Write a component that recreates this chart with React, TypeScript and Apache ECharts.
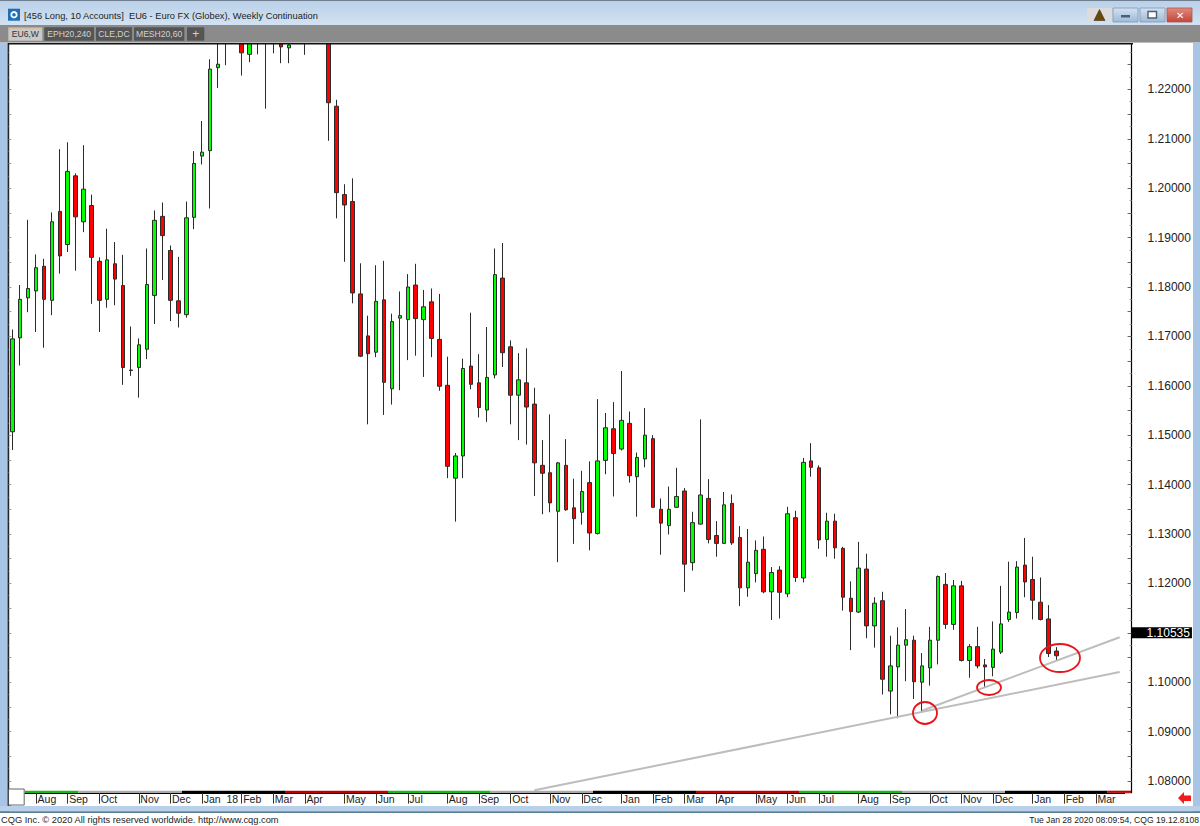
import React, { useEffect, useRef } from "react";
import * as echarts from "echarts";

const opens = [
  1.1507, 1.1697, 1.1778, 1.1792, 1.1842, 1.1773, 1.1953, 1.1886, 1.2025, 1.1932,
  1.1965, 1.1852, 1.1775, 1.1847, 1.1803, 1.1631, 1.1637, 1.1674, 1.1783, 1.1943,
  1.1874, 1.1772, 1.1744, 1.1941, 1.2065, 1.2076, 1.2244, 1.2310, 1.2345, 1.2360,
  1.2271, 1.2300, 1.2330, 1.2320, 1.2330, 1.2284, 1.2320, 1.2320, 1.2340, 1.2370,
  1.2335, 1.2166, 1.1987, 1.1973, 1.1786, 1.1701, 1.1668, 1.1774, 1.1594, 1.1737,
  1.1734, 1.1804, 1.1734, 1.1770, 1.1694, 1.1601, 1.1413, 1.1458, 1.1640, 1.1606,
  1.1551, 1.1622, 1.1818, 1.1679, 1.1581, 1.1606, 1.1563, 1.1439, 1.1424, 1.1346,
  1.1439, 1.1353, 1.1344, 1.1404, 1.1301, 1.1449, 1.1513, 1.1472, 1.1524, 1.1416,
  1.1452, 1.1493, 1.1350, 1.1317, 1.1354, 1.1387, 1.1242, 1.1320, 1.1372, 1.1297,
  1.1281, 1.1362, 1.1293, 1.1191, 1.1220, 1.1269, 1.1183, 1.1227, 1.1179, 1.1333,
  1.1211, 1.1448, 1.1434, 1.1289, 1.1326, 1.1271, 1.1170, 1.1142, 1.1229, 1.1114,
  1.1165, 1.0982, 1.1031, 1.1075, 1.1085, 1.1000, 1.1029, 1.1085, 1.1198, 1.1117,
  1.1195, 1.1044, 1.1072, 1.1035, 1.1030, 1.1061, 1.1127, 1.1141, 1.1237, 1.1208,
  1.1162, 1.1128, 1.1063,
];
const closes = [
  1.1695, 1.1775, 1.1797, 1.1839, 1.1775, 1.1932, 1.1863, 1.2034, 1.1942, 1.1998,
  1.1860, 1.1773, 1.1855, 1.1816, 1.1637, 1.1632, 1.1683, 1.1805, 1.1935, 1.1904,
  1.1773, 1.1747, 1.1940, 1.2050, 1.2073, 1.2241, 1.2251, 1.2340, 1.2385, 1.2274,
  1.2340, 1.2350, 1.2310, 1.2350, 1.2286, 1.2290, 1.2350, 1.2340, 1.2370, 1.2340,
  1.2173, 1.1991, 1.1966, 1.1788, 1.1660, 1.1665, 1.1771, 1.1607, 1.1730, 1.1742,
  1.1800, 1.1736, 1.1760, 1.1696, 1.1599, 1.1437, 1.1458, 1.1635, 1.1603, 1.1556,
  1.1617, 1.1825, 1.1667, 1.1581, 1.1612, 1.1557, 1.1444, 1.1423, 1.1363, 1.1444,
  1.1349, 1.1331, 1.1386, 1.1302, 1.1448, 1.1515, 1.1463, 1.1530, 1.1418, 1.1455,
  1.1500, 1.1354, 1.1322, 1.1350, 1.1376, 1.1239, 1.1323, 1.1379, 1.1289, 1.1281,
  1.1359, 1.1282, 1.1191, 1.1243, 1.1267, 1.1183, 1.1222, 1.1182, 1.1341, 1.1212,
  1.1445, 1.1435, 1.1288, 1.1326, 1.1272, 1.1172, 1.1143, 1.1231, 1.1114, 1.1160,
  1.1006, 1.1033, 1.1075, 1.1086, 1.1001, 1.1033, 1.1085, 1.1214, 1.1117, 1.1195,
  1.1044, 1.1072, 1.1033, 1.1031, 1.1067, 1.1118, 1.1142, 1.1233, 1.1203, 1.1166,
  1.1127, 1.1058, 1.10535,
];
const lows = [
  1.1470, 1.1641, 1.1749, 1.1709, 1.1677, 1.1743, 1.1827, 1.1871, 1.1833, 1.1911,
  1.1766, 1.1709, 1.1758, 1.1763, 1.1602, 1.1620, 1.1576, 1.1654, 1.1725, 1.1814,
  1.1731, 1.1718, 1.1738, 1.1917, 1.2048, 1.1959, 1.2203, 1.2249, 1.2310, 1.2228,
  1.2255, 1.2271, 1.2161, 1.2273, 1.2253, 1.2253, 1.2300, 1.2270, 1.2310, 1.2305,
  1.2096, 1.1939, 1.1851, 1.1767, 1.1658, 1.1522, 1.1658, 1.1541, 1.1562, 1.1591,
  1.1652, 1.1661, 1.1618, 1.1658, 1.1590, 1.1413, 1.1325, 1.1413, 1.1593, 1.1536,
  1.1527, 1.1615, 1.1638, 1.1522, 1.1490, 1.1481, 1.1377, 1.1340, 1.1344, 1.1243,
  1.1347, 1.1280, 1.1319, 1.1267, 1.1299, 1.1421, 1.1376, 1.1469, 1.1404, 1.1335,
  1.1435, 1.1353, 1.1258, 1.1299, 1.1353, 1.1183, 1.1226, 1.1319, 1.1281, 1.1254,
  1.1280, 1.1278, 1.1154, 1.1173, 1.1202, 1.1180, 1.1126, 1.1129, 1.1172, 1.1203,
  1.1202, 1.1416, 1.1270, 1.1254, 1.1250, 1.1145, 1.1065, 1.1140, 1.1089, 1.1070,
  1.0975, 1.0935, 1.0927, 1.1002, 1.0966, 1.0940, 1.0993, 1.1036, 1.1108, 1.1106,
  1.1042, 1.1009, 1.1028, 1.0990, 1.1012, 1.1057, 1.1122, 1.1129, 1.1172, 1.1127,
  1.1125, 1.1051, 1.1044,
];
const highs = [
  1.1714, 1.1804, 1.1936, 1.1866, 1.1857, 1.1951, 1.2079, 1.2093, 1.2030, 1.2087,
  1.1987, 1.1860, 1.1918, 1.1891, 1.1865, 1.1720, 1.1696, 1.1878, 1.1955, 1.1971,
  1.1884, 1.1861, 1.1973, 1.2075, 1.2136, 1.2261, 1.2340, 1.2370, 1.2410, 1.2400,
  1.2380, 1.2400, 1.2420, 1.2400, 1.2380, 1.2340, 1.2400, 1.2390, 1.2400, 1.2400,
  1.2350, 1.2179, 1.2008, 1.2020, 1.1848, 1.1742, 1.1844, 1.1853, 1.1746, 1.1791,
  1.1826, 1.1847, 1.1794, 1.1797, 1.1786, 1.1659, 1.1464, 1.1655, 1.1748, 1.1664,
  1.1719, 1.1878, 1.1889, 1.1692, 1.1666, 1.1676, 1.1596, 1.1490, 1.1542, 1.1446,
  1.1492, 1.1412, 1.1428, 1.1447, 1.1573, 1.1545, 1.1567, 1.1630, 1.1548, 1.1465,
  1.1555, 1.1500, 1.1372, 1.1396, 1.1434, 1.1393, 1.1345, 1.1532, 1.1411, 1.1326,
  1.1385, 1.1380, 1.1316, 1.1310, 1.1287, 1.1295, 1.1233, 1.1235, 1.1355, 1.1347,
  1.1454, 1.1484, 1.1439, 1.1343, 1.1341, 1.1274, 1.1204, 1.1284, 1.1260, 1.1172,
  1.1183, 1.1094, 1.1111, 1.1148, 1.1094, 1.1059, 1.1112, 1.1216, 1.1221, 1.1207,
  1.1205, 1.1077, 1.1112, 1.1047, 1.1123, 1.1195, 1.1244, 1.1245, 1.1292, 1.1254,
  1.1212, 1.1156, 1.1071,
];

const lastPrice = 1.10535;
const barCount = 142;
const monthTickIndex = [3, 7, 11, 16, 20, 24, 29, 33, 37, 42, 46, 50, 55, 59, 63, 68, 72, 77, 81, 85, 89, 94, 98, 102, 107, 111, 116, 120, 124, 129, 133, 137];
const monthTickLabel = ["Aug", "Sep", "Oct", "Nov", "Dec", "Jan  18", "Feb", "Mar", "Apr", "May", "Jun", "Jul", "Aug", "Sep", "Oct", "Nov", "Dec", "Jan", "Feb", "Mar", "Apr", "May", "Jun", "Jul", "Aug", "Sep", "Oct", "Nov", "Dec", "Jan", "Feb", "Mar"];
const lowerTrend = [[66, 1.07812], [140, 1.10206]];
const upperTrend = [[115, 1.09423], [140, 1.10909]];

const seasonEdges = [25, 78.5, 182, 285, 388, 490.6, 593, 696, 799, 902, 1005, 1107.5, 1131];
const seasonColors = ["#18b818", "#aaaaaa", "#000000", "#c00000"];

const titleText = "[456 Long, 10 Accounts]  EU6 - Euro FX (Globex), Weekly Continuation";
const tabs = [
  { name: "EU6,W", x: 8.3, w: 34, active: true },
  { name: "EPH20,240", x: 44.3, w: 49.7, active: false },
  { name: "CLE,DC", x: 96, w: 36, active: false },
  { name: "MESH20,60", x: 134, w: 50.3, active: false },
  { name: "+", x: 187, w: 17.3, active: false },
];

const font = "Liberation Sans";
const xLabels: string[] = Array(barCount).fill("");
monthTickIndex.forEach((idx, i) => { xLabels[idx] = monthTickLabel[i]; });

function rect(x: number, y: number, w: number, h: number, fill: any, z = 100, extra: any = {}) {
  return { type: "rect", z, silent: true, shape: { x, y, width: w, height: h }, style: { fill, ...extra } };
}
function label(text: string, x: number, y: number, fill: string, size = 11, z = 101, align = "left") {
  return { type: "text", z, silent: true, x, y, style: { text, fill, font: `${size}px "${font}"`, textAlign: align, textVerticalAlign: "middle" } };
}

function chrome() {
  const els: any[] = [];
  const titleFill = new echarts.graphic.LinearGradient(0, 0, 0, 1, [
    { offset: 0, color: "#b9d0e8" },
    { offset: 1, color: "#d2e2f2" },
  ]);
  els.push(rect(0, 0, 1200, 25, titleFill));
  els.push(rect(0, 0, 1200, 1, "#6f7f8f", 101));
  els.push(rect(0, 25, 1200, 17, "#8b8b8b"));
  els.push(rect(0, 42, 1200, 1, "#bdbdbd", 101));
  els.push(rect(8, 43, 1125, 1.4, "#111111", 101));
  els.push(rect(0, 0, 7.6, 812, "#a9c5e6", 99));
  els.push(rect(1193, 0, 7, 812, "#a9c5e6", 99));
  els.push(rect(7.6, 0, 1, 812, "#333333", 99.5));
  els.push(rect(0, 25, 1200, 17, "#8b8b8b", 99.6));

  els.push(rect(8, 8.7, 12, 12, "#1f6fb5", 101));
  els.push({ type: "ring", z: 102, silent: true, shape: { cx: 14, cy: 14.7, r: 3.6, r0: 1.8 }, style: { fill: "#ffffff" } });
  els.push(label(titleText, 24, 15.8, "#222222", 9.3));

  tabs.forEach((t) => {
    els.push(rect(t.x, 27.3, t.w, 13.4, t.active ? "#c9c9c9" : "#555555", 101));
    if (t.active) els.push(rect(t.x, 27.3, t.w, 1, "#e9a13a", 102));
    els.push(label(t.name, t.x + t.w / 2, 34.3, t.active ? "#333333" : "#d2d2d2", t.name === "+" ? 12 : 8.6, 102, "center"));
  });

  els.push(rect(1087, 8, 25, 14, "#dcdcdc", 101));
  els.push({ type: "polygon", z: 102, silent: true, shape: { points: [[1099.5, 9.5], [1105, 20.5], [1094, 20.5]] }, style: { fill: "#6b4a00", stroke: "#333", lineWidth: 0.6 } });
  const btn = new echarts.graphic.LinearGradient(0, 0, 0, 1, [
    { offset: 0, color: "#d4e2f1" },
    { offset: 1, color: "#9fb9d6" },
  ]);
  els.push(rect(1113, 8, 25, 14, btn, 101, { stroke: "#7f98b5", lineWidth: 0.8 }));
  els.push(rect(1121, 15, 9, 2.5, "#4d5f74", 102));
  els.push(rect(1140, 8, 25, 14, btn, 101, { stroke: "#7f98b5", lineWidth: 0.8 }));
  els.push(rect(1148, 11.5, 8.5, 6.5, "#ffffff", 102, { stroke: "#4d5f74", lineWidth: 1.4 }));
  const closeFill = new echarts.graphic.LinearGradient(0, 0, 0, 1, [
    { offset: 0, color: "#e2897c" },
    { offset: 1, color: "#c2463a" },
  ]);
  els.push(rect(1167, 8, 25, 14, closeFill, 101, { stroke: "#a8584f", lineWidth: 0.8 }));
  els.push(label("\u2715", 1179.5, 15.3, "#ffffff", 10, 102, "center"));

  // axis bottom: covers the part of the value axes below the plot
  els.push(rect(1125, 793.2, 12, 14, "#ffffff", 50));
  els.push(rect(9, 793.2, 15.6, 11.8, "#ffffff", 50));
  els.push(rect(8.3, 789, 15.9, 16, "#ffffff", 51, { stroke: "#666666", lineWidth: 1 }));
  for (let i = 0; i < seasonEdges.length - 1; i++) {
    els.push(rect(seasonEdges[i], 790.7, seasonEdges[i + 1] - seasonEdges[i], 2.2, seasonColors[i % 4], 40));
  }
  els.push({ type: "polygon", z: 60, silent: true, shape: { points: [[1178, 798], [1184, 792], [1184, 795.5], [1191, 795.5], [1191, 801], [1184, 801], [1184, 804]] }, style: { fill: "#ee1c1c" } });

  // window bottom
  els.push(rect(0, 806, 1200, 5.6, "#b8d0ea", 100));
  els.push(rect(0, 811.6, 1200, 1.2, "#27566b", 101));
  els.push(rect(0, 812.8, 1200, 14, "#ffffff", 100));
  els.push(label("CQG Inc. \u00a9 2020 All rights reserved worldwide. http://www.cqg.com", 1, 819.6, "#222222", 9.3));
  els.push(label("Tue Jan 28 2020 08:09:54, CQG 19.12.8108", 1199, 819.6, "#222222", 8.6, 101, "right"));

  // hand-drawn circles
  [[925, 713, 12, 11], [989, 687.5, 12, 7.5], [1060, 658, 20, 14]].forEach(([cx, cy, rx, ry]) => {
    els.push({ type: "ellipse", z: 30, silent: true, shape: { cx, cy, rx, ry }, style: { fill: "transparent", stroke: "#e8141c", lineWidth: 1.8 } });
  });
  return els;
}

export default function App() {
  const ref = useRef<HTMLDivElement>(null);
  useEffect(() => {
    if (!ref.current) return;
    const chart = echarts.init(ref.current, undefined, { renderer: "svg" });
    const isLabelled = (i: number) => xLabels[i] !== "";
    const valueAxisBase = {
      type: "value",
      min: 1.075,
      max: 1.23,
      interval: 0.005,
      splitLine: { show: false },
      minorSplitLine: { show: false },
    };
    chart.setOption({
      animation: false,
      backgroundColor: "#ffffff",
      grid: { left: 8.35, width: 1123.2, top: 40, height: 765.7, containLabel: false },
      xAxis: {
        type: "category",
        data: xLabels,
        boundaryGap: true,
        offset: -12.6,
        axisLine: { onZero: false, lineStyle: { color: "#000000", width: 1 } },
        axisTick: { show: true, alignWithLabel: true, length: 10.5, interval: isLabelled, lineStyle: { color: "#333333", width: 1 } },
        axisLabel: {
          interval: isLabelled,
          align: "left",
          verticalAlign: "top",
          margin: 0.5,
          padding: [0, 0, 0, 1.5],
          color: "#222222",
          fontFamily: font,
          fontSize: 10.5,
          hideOverlap: false,
        },
        splitLine: { show: false },
        z: 45,
      },
      yAxis: [
        {
          ...valueAxisBase,
          position: "right",
          axisLine: { show: true, lineStyle: { color: "#000000", width: 1.2 } },
          axisTick: { show: true, inside: true, length: 4, lineStyle: { color: "#666666" } },
          minorTick: { show: true, splitNumber: 2, length: 2, lineStyle: { color: "#999999" } },
          axisLabel: {
            margin: 16,
            color: "#222222",
            fontFamily: font,
            fontSize: 12,
            formatter: (v: number) => {
              const hundredth = Math.abs(v * 100 - Math.round(v * 100)) < 1e-6;
              return hundredth && v >= 1.08 && v <= 1.22 ? v.toFixed(5) : "";
            },
          },
        },
        {
          ...valueAxisBase,
          position: "left",
          axisLine: { show: true, lineStyle: { color: "#111111", width: 1.4 } },
          axisTick: { show: true, inside: true, length: 3, lineStyle: { color: "#999999" } },
          minorTick: { show: true, splitNumber: 2, length: 1.5, lineStyle: { color: "#c0c0c0" } },
          axisLabel: { show: false },
        },
      ],
      series: [
        {
          type: "candlestick",
          name: "EU6",
          yAxisIndex: 0,
          barWidth: 4,
          z: 3,
          itemStyle: {
            color: "#00ff00",
            color0: "#ff0000",
            borderColor: "#2b2b2b",
            borderColor0: "#2b2b2b",
            borderWidth: 1,
          },
          data: opens.map((o, i) => [o, closes[i], lows[i], highs[i]]),
          markLine: {
            silent: true,
            symbol: "none",
            lineStyle: { color: "transparent", width: 0 },
            data: [{ yAxis: lastPrice }],
            label: {
              position: "end",
              distance: 0,
              formatter: () => lastPrice.toFixed(5),
              color: "#ffffff",
              backgroundColor: "#000000",
              fontFamily: font,
              fontSize: 12,
              lineHeight: 11,
              padding: [0, 2, 0, 15],
            },
          },
        },
        {
          type: "line",
          name: "Lower trend",
          z: 4,
          symbol: "none",
          lineStyle: { color: "#bdbdbd", width: 2 },
          data: lowerTrend,
        },
        {
          type: "line",
          name: "Upper trend",
          z: 4,
          symbol: "none",
          lineStyle: { color: "#bdbdbd", width: 2 },
          data: upperTrend,
        },
      ],
      graphic: { elements: chrome() },
    });
    return () => chart.dispose();
  }, []);
  return <div ref={ref} style={{ position: "fixed", left: 0, top: 0, width: 1200, height: 826 }} />;
}
